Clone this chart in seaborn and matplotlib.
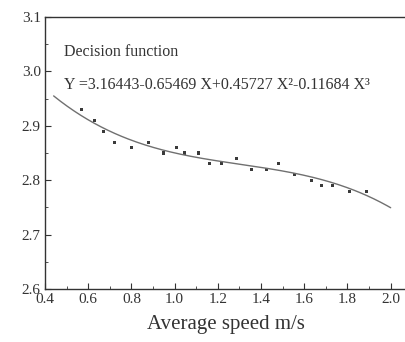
import numpy as np
import pandas as pd
import matplotlib
matplotlib.use("Agg")
import matplotlib.pyplot as plt
from matplotlib.ticker import MultipleLocator
import seaborn as sns

# Measured points (average speed m/s, decision value)
speed = [0.57, 0.63, 0.67, 0.72, 0.80, 0.88, 0.95, 1.01, 1.045, 1.11,
         1.16, 1.215, 1.285, 1.355, 1.425, 1.48, 1.555, 1.635, 1.68, 1.73,
         1.81, 1.89]
value = [2.93, 2.91, 2.89, 2.87, 2.86, 2.87, 2.85, 2.86, 2.85, 2.85,
         2.83, 2.83, 2.84, 2.82, 2.82, 2.83, 2.81, 2.80, 2.79, 2.79,
         2.78, 2.78]

# Decision function coefficients shown in the chart (c0, c1, c2, c3)
coeffs = [3.16443, -0.65469, 0.45727, -0.11684]
curve_range = [0.44, 2.0]

xticks = [0.4, 0.6, 0.8, 1.0, 1.2, 1.4, 1.6, 1.8, 2.0]
yticks = [2.6, 2.7, 2.8, 2.9, 3.0, 3.1]

sns.set_theme(style="white")
plt.rcParams['font.family'] = ['Liberation Serif', 'DejaVu Serif']

fig = plt.figure(figsize=(4.06, 3.42), dpi=100)
ax = fig.add_axes([45/406, 53/342, 1 - 45/406, 272/342])

pts = pd.DataFrame({"x": speed, "y": value})
xs = np.linspace(curve_range[0], curve_range[1], 200)
ys = sum(c * xs**i for i, c in enumerate(coeffs))
fit = pd.DataFrame({"x": xs, "y": ys})

sns.lineplot(data=fit, x="x", y="y", ax=ax, color="#707070", linewidth=1.0)
sns.scatterplot(data=pts, x="x", y="y", ax=ax, color="#3a3a3a", marker="s",
                s=5, edgecolor="none")

ax.set_xlim(0.4, 2.071)
ax.set_ylim(2.6, 3.1)
ax.set_xticks(xticks)
ax.set_yticks(yticks)
ax.set_xticklabels([f"{t:.1f}" for t in xticks])
ax.set_yticklabels([f"{t:.1f}" for t in yticks])
ax.xaxis.set_minor_locator(MultipleLocator(0.1))
ax.yaxis.set_minor_locator(MultipleLocator(0.05))
ax.tick_params(axis="both", which="major", direction="in", length=4,
               width=0.8, labelsize=11, colors="#333333", pad=3)
ax.tick_params(axis="both", which="minor", direction="in", length=2,
               width=0.6, colors="#333333")
ax.tick_params(axis="x", which="both", top=False, bottom=True)
ax.tick_params(axis="y", which="both", left=True, right=False)

for side in ["left", "bottom", "top"]:
    ax.spines[side].set_visible(True)
    ax.spines[side].set_color("#333333")
    ax.spines[side].set_linewidth(1.0)
ax.spines["right"].set_visible(False)

ax.set_xlabel("Average speed m/s", fontsize=15, color="#333333", labelpad=6)
ax.set_ylabel("")

ax.text(0.49, 3.036, "Decision function", fontsize=11.5, color="#333333",
        va="center", ha="left")
ax.text(0.49, 2.975, "Y =3.16443-0.65469 X+0.45727 X²-0.11684 X³",
        fontsize=11.5, color="#333333", va="center", ha="left")

fig.savefig("out.png", dpi=100)
